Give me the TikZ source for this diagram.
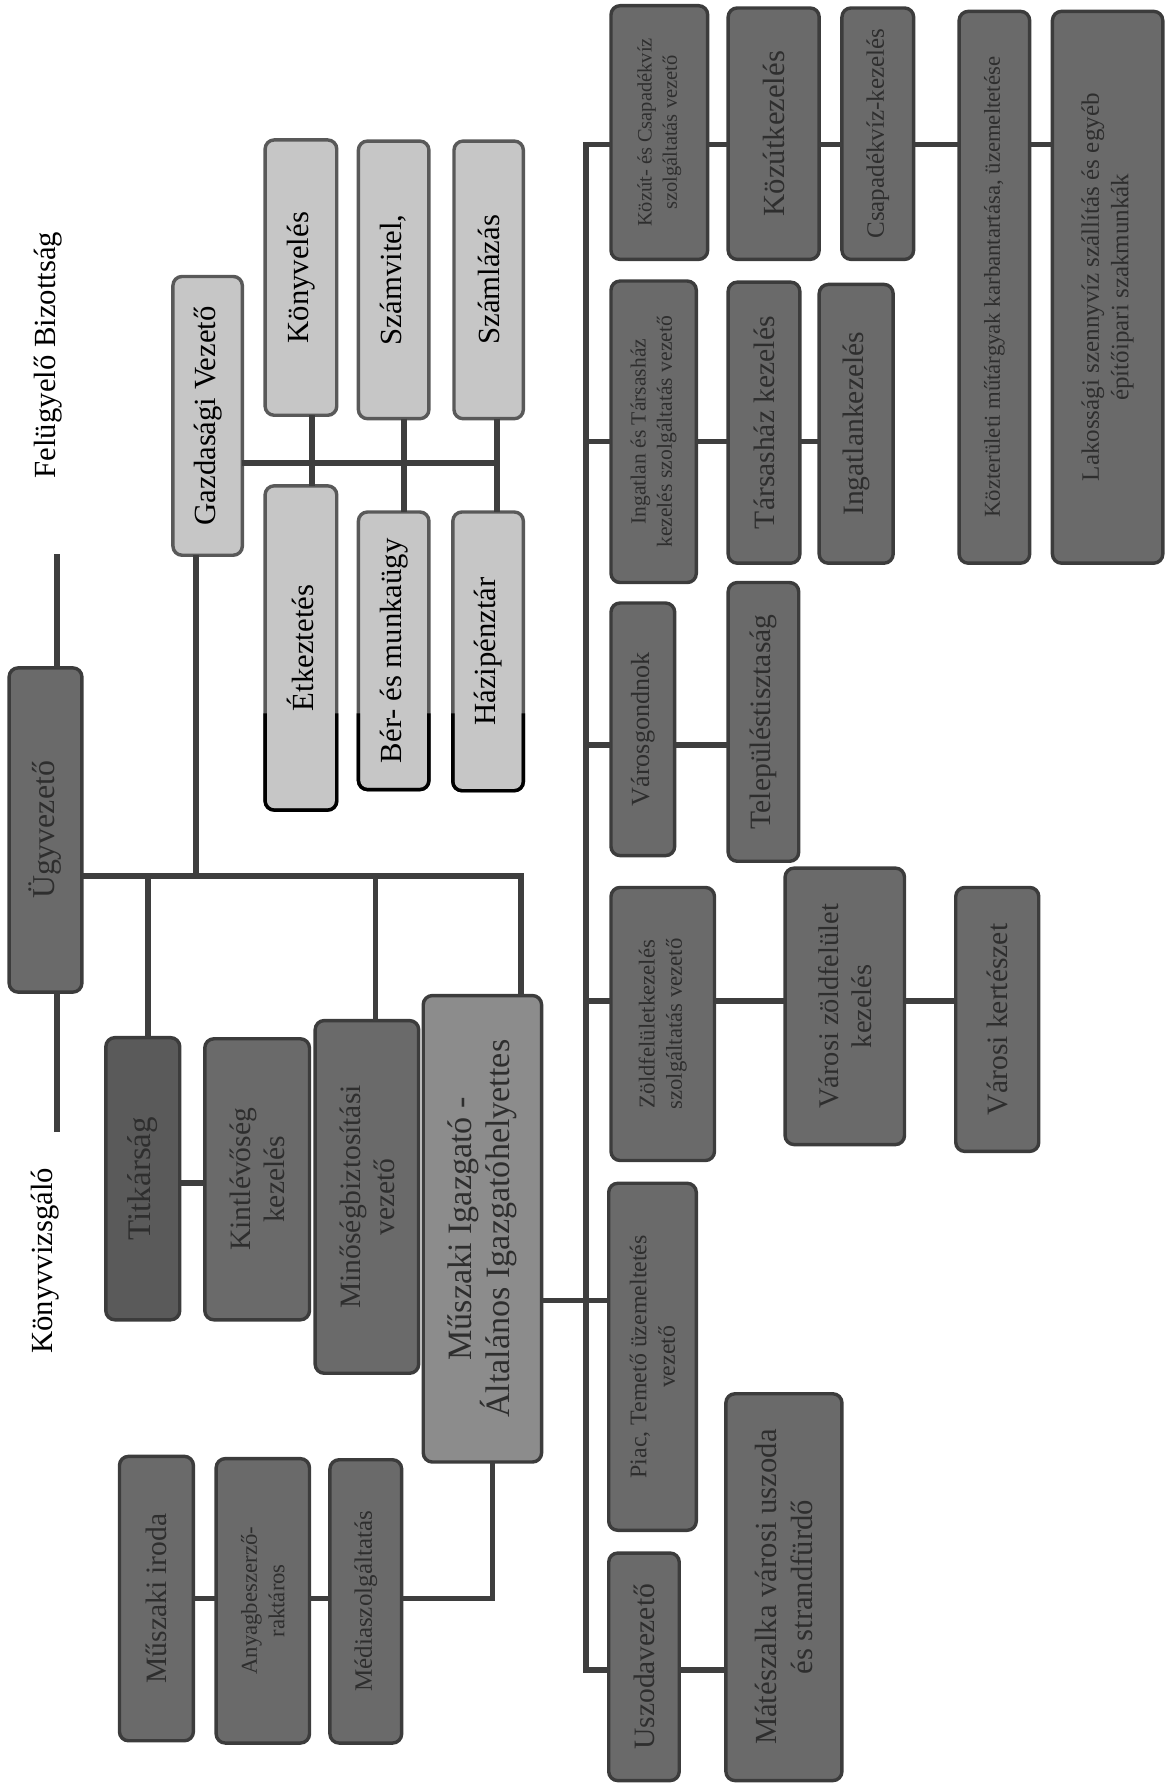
\documentclass[tikz,border=0pt]{standalone}
\usepackage{fontspec}
\setmainfont{Liberation Serif}
\usetikzlibrary{fit}
\definecolor{lightC}{HTML}{C6C6C6}
\definecolor{darkC}{HTML}{6A6A6A}
\definecolor{titC}{HTML}{5A5A5A}
\definecolor{musC}{HTML}{8C8C8C}
\definecolor{edgeC}{HTML}{3C3C3C}
\definecolor{lineC}{HTML}{3E3E3E}
\definecolor{dtext}{HTML}{2E2E2E}
\newcommand\mkbox[8]{%
  \node[#2, fit={(#3,#4) (#5,#6)}] (#1) {};
  \node[lbl, font={\fontsize#7\selectfont}] (#1t) at (#1.center) {#8};}
\begin{document}
\begin{tikzpicture}[x=1pt,y=-1pt,
  conn/.style={draw=lineC, line width=5pt},
  bx/.style={draw=edgeC, line width=3pt, rounded corners=8pt, inner sep=0pt, outer sep=0pt},
  lightbox/.style={bx, draw=edgeC!85, fill=lightC},
  darkbox/.style={bx, fill=darkC},
  titbox/.style={bx, fill=titC},
  musbox/.style={bx, fill=musC},
  lbl/.style={rotate=90, align=center, inner sep=0pt, text=dtext},
  plain/.style={rotate=90, inner sep=0pt, font={\fontsize{27}{31}\selectfont}},
]
\useasboundingbox (0,0) rectangle (1026,1568);

% top-level labels
\node[plain] (fel) at (42,312) {Felügyelő Bizottság};
\node[plain] (kvv) at (40,1108) {Könyvvizsgáló};

% left part
\mkbox{ugy}{darkbox}{8}{587}{72}{872}{{28}{32}}{Ügyvezető}
\mkbox{gaz}{lightbox}{152}{243}{213}{488}{{27}{31}}{\color{black}Gazdasági Vezető}
\mkbox{konyv}{lightbox}{233}{123}{296}{365}{{27}{31}}{\color{black}Könyvelés}
\mkbox{szamv}{lightbox}{315}{124}{377}{368}{{27}{31}}{\color{black}Számvitel,}
\mkbox{szaml}{lightbox}{399}{124}{460}{368}{{27}{31}}{\color{black}Számlázás}
\mkbox{etk}{lightbox}{233}{427}{296}{712}{{27}{31}}{\color{black}Étkeztetés}
\mkbox{ber}{lightbox}{315}{450}{377}{694}{{27}{31}}{\color{black}Bér- és munkaügy}
\mkbox{hazi}{lightbox}{398}{450}{460}{695}{{27}{31}}{\color{black}Házipénztár}

\mkbox{tit}{titbox}{93}{912}{158}{1160}{{29}{33}}{Titkárság}
\mkbox{kint}{darkbox}{180}{913}{272}{1160}{{26}{30}}{Kintlévőség\\kezelés}
\mkbox{min}{darkbox}{277}{897}{368}{1207}{{26}{30}}{Minőségbiztosítási\\vezető}
\mkbox{mus}{musbox}{372}{875}{476}{1285}{{30}{34}}{Műszaki Igazgató -\\Általános Igazgatóhelyettes}
\mkbox{iroda}{darkbox}{105}{1280}{170}{1530}{{26}{30}}{Műszaki iroda}
\mkbox{anyag}{darkbox}{190}{1282}{272}{1532}{{20}{24}}{Anyagbeszerző-\\raktáros}
\mkbox{media}{darkbox}{290}{1283}{353}{1532}{{22}{26}}{Médiaszolgáltatás}

% right part
\mkbox{kozut}{darkbox}{537}{5}{622}{228}{{18}{22}}{Közút- és Csapadékvíz\\szolgáltatás vezető}
\mkbox{kozutk}{darkbox}{640}{7}{720}{228}{{27}{31}}{Közútkezelés}
\mkbox{csap}{darkbox}{740}{7}{803}{228}{{22}{26}}{Csapadékvíz-kezelés}
\mkbox{kozter}{darkbox}{843}{10}{905}{495}{{20}{24}}{Közterületi műtárgyak karbantartása, üzemeltetése}
\mkbox{lakos}{darkbox}{925}{10}{1022}{495}{{22}{26}}{Lakossági szennyvíz szállítás és egyéb\\építőipari szakmunkák}
\mkbox{ingatlan}{darkbox}{537}{247}{612}{512}{{19}{23}}{Ingatlan és Társasház\\kezelés szolgáltatás vezető}
\mkbox{tarsas}{darkbox}{640}{248}{703}{495}{{26}{30}}{Társasház kezelés}
\mkbox{ingk}{darkbox}{720}{250}{785}{495}{{26}{30}}{Ingatlankezelés}
\mkbox{varosg}{darkbox}{537}{530}{593}{752}{{23}{27}}{Városgondnok}
\mkbox{telep}{darkbox}{640}{512}{702}{757}{{26}{30}}{Településtisztaság}
\mkbox{zold}{darkbox}{537}{780}{628}{1020}{{20}{24}}{Zöldfelületkezelés\\szolgáltatás vezető}
\mkbox{vzold}{darkbox}{690}{763}{795}{1006}{{25}{29}}{Városi zöldfelület\\kezelés}
\mkbox{vkert}{darkbox}{840}{780}{913}{1012}{{26}{30}}{Városi kertészet}
\mkbox{piac}{darkbox}{535}{1040}{612}{1345}{{21}{25}}{Piac, Temető üzemeltetés\\vezető}
\mkbox{uszoda}{darkbox}{535}{1365}{597}{1565}{{26}{30}}{Uszodavezető}
\mkbox{mate}{darkbox}{638}{1225}{740}{1565}{{27}{31}}{Mátészalka városi uszoda\\és strandfürdő}

% black lower outline of the three light boxes
\foreach \b in {etk,ber,hazi}{
  \draw[black, line width=3pt, rounded corners=8pt]
    (\b.west |- 0,627) -- (\b.south west) -- (\b.south east) -- (\b.east |- 0,627);
}

% connectors: top level
\coordinate (fb) at (50,487);
\coordinate (kb) at (50,995);
\draw[conn] (fb) -- (fb |- ugy.north);
\draw[conn] (kb) -- (kb |- ugy.south);
\coordinate (j0) at (458,770);
\draw[conn] (ugy.east |- j0) -- (j0) -- (j0 |- mus.north);
\coordinate (jg) at (172,770);
\draw[conn] (jg) -- (jg |- gaz.south);
\coordinate (jt) at (130,770);
\draw[conn] (jt) -- (jt |- tit.north);
\coordinate (jm) at (330,770);
\draw[conn] (jm) -- (jm |- min.north);
\coordinate (jk) at (0,1040);
\draw[conn] (tit.east |- jk) -- (kint.west |- jk);

% Gazdasági group
\coordinate (gh) at (437,407);
\draw[conn] (gaz.east |- gh) -- (gh);
\coordinate (c1) at (274,0);
\coordinate (c2) at (355,0);
\coordinate (c3) at (437,0);
\draw[conn] (konyv.south -| c1) -- (etk.north -| c1);
\draw[conn] (szamv.south -| c2) -- (ber.north -| c2);
\draw[conn] (szaml.south -| c3) -- (hazi.north -| c3);

% Műszaki group
\coordinate (mb) at (433,1405);
\draw[conn] (mb |- mus.south) -- (mb) -- (media.east |- mb);
\draw[conn] (media.west |- mb) -- (anyag.east |- mb);
\draw[conn] (anyag.west |- mb) -- (iroda.east |- mb);

% right spine
\coordinate (s0) at (515,127);
\coordinate (s6) at (515,1468);
\draw[conn] (kozut.west |- s0) -- (s0) -- (s6) -- (uszoda.west |- s6);
\coordinate (sm) at (515,1143);
\draw[conn] (mus.east |- sm) -- (piac.west |- sm);
\coordinate (s1) at (515,388);
\coordinate (s2) at (515,655);
\coordinate (s3) at (515,880);
\draw[conn] (s1) -- (ingatlan.west |- s1);
\draw[conn] (s2) -- (varosg.west |- s2);
\draw[conn] (s3) -- (zold.west |- s3);

% right chains
\draw[conn] (kozut.east |- s0) -- (kozutk.west |- s0);
\draw[conn] (kozutk.east |- s0) -- (csap.west |- s0);
\draw[conn] (csap.east |- s0) -- (kozter.west |- s0);
\draw[conn] (kozter.east |- s0) -- (lakos.west |- s0);
\draw[conn] (ingatlan.east |- s1) -- (tarsas.west |- s1);
\draw[conn] (tarsas.east |- s1) -- (ingk.west |- s1);
\draw[conn] (varosg.east |- s2) -- (telep.west |- s2);
\draw[conn] (zold.east |- s3) -- (vzold.west |- s3);
\draw[conn] (vzold.east |- s3) -- (vkert.west |- s3);
\draw[conn] (uszoda.east |- s6) -- (mate.west |- s6);
\end{tikzpicture}
\end{document}
